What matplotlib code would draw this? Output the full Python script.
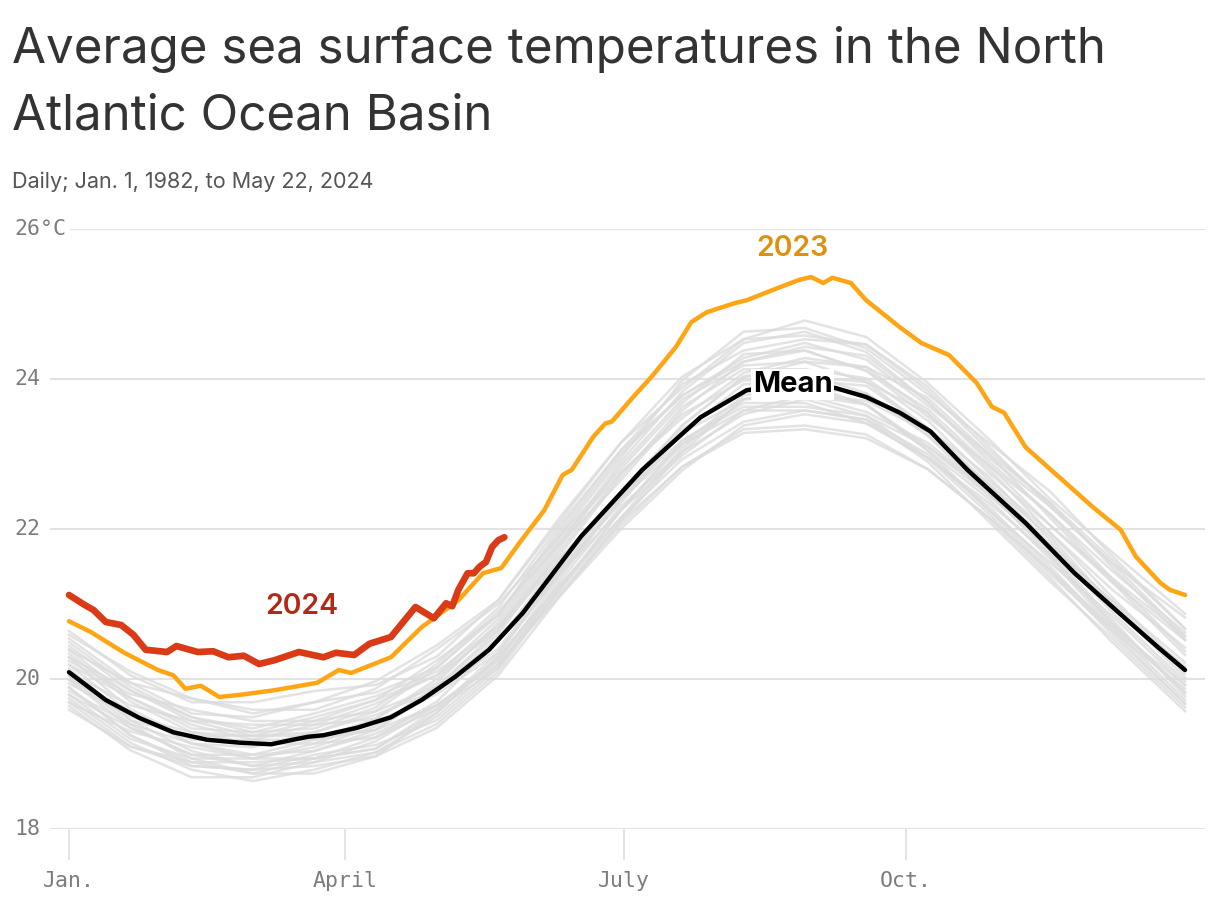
import matplotlib
matplotlib.use("Agg")
import matplotlib.pyplot as plt
import numpy as np

# ---- data (day of year, degrees C) ----
mean_days = [0, 12, 23, 34, 45, 56, 66, 73, 78, 83, 94, 105, 115, 126, 137, 148,
             167, 187, 206, 221, 235, 250, 260, 271, 281, 293, 312, 328, 345, 355, 364]
mean_vals = [20.09, 19.72, 19.48, 19.29, 19.19, 19.15, 19.13, 19.19, 19.23, 19.25, 19.35,
             19.49, 19.72, 20.03, 20.39, 20.88, 21.90, 22.79, 23.49, 23.85, 23.93, 23.88,
             23.76, 23.55, 23.30, 22.79, 22.08, 21.41, 20.79, 20.43, 20.12]

y2023_days = [0, 7, 18, 29, 34, 38, 43, 49, 56, 67, 81, 88, 92, 105, 115, 127, 135, 141,
              147, 155, 161, 164, 171, 175, 177, 184, 190, 195, 198, 203, 208, 217, 221,
              231, 238, 242, 246, 249, 255, 260, 271, 278, 287, 296, 301, 305, 312, 323,
              334, 343, 348, 356, 359, 364]
y2023_vals = [20.77, 20.63, 20.35, 20.12, 20.05, 19.87, 19.91, 19.76, 19.79, 19.85, 19.95,
              20.12, 20.08, 20.29, 20.69, 21.05, 21.41, 21.48, 21.82, 22.25, 22.72, 22.79,
              23.23, 23.41, 23.43, 23.76, 24.03, 24.28, 24.43, 24.76, 24.89, 25.01, 25.05,
              25.21, 25.32, 25.36, 25.28, 25.35, 25.28, 25.05, 24.69, 24.48, 24.32, 23.95,
              23.63, 23.55, 23.09, 22.69, 22.29, 21.99, 21.63, 21.28, 21.19, 21.12]

y2024_days = [0, 5, 8, 12, 17, 21, 25, 32, 35, 42, 47, 52, 57, 62, 67, 75, 83, 87, 93, 98,
              105, 113, 119, 123, 125, 127, 130, 132, 134, 136, 138, 140, 142]
y2024_vals = [21.12, 20.99, 20.92, 20.76, 20.72, 20.59, 20.39, 20.36, 20.44, 20.36, 20.37,
              20.29, 20.31, 20.20, 20.25, 20.36, 20.29, 20.35, 20.32, 20.47, 20.56, 20.96,
              20.81, 21.01, 20.97, 21.19, 21.41, 21.41, 21.50, 21.56, 21.76, 21.85, 21.89]

# earlier years 1982-2022 (a sample of the grey spaghetti), sampled every 20 days
grey_days = [0, 20, 40, 60, 80, 100, 120, 140, 160, 180, 200, 220, 240, 260, 280, 300, 320, 340, 364]
grey_years = [
    [19.74, 19.15, 18.79, 18.64, 18.79, 19.02, 19.50, 20.20, 21.15, 22.05, 22.83, 23.33, 23.38, 23.26, 22.80, 22.15, 21.45, 20.60, 19.67],
    [19.59, 19.10, 18.89, 18.74, 18.74, 18.97, 19.55, 20.30, 21.25, 22.15, 22.93, 23.43, 23.58, 23.46, 22.90, 22.10, 21.30, 20.55, 19.62],
    [19.89, 19.25, 18.84, 18.79, 18.99, 19.12, 19.45, 20.15, 21.30, 22.30, 23.03, 23.53, 23.73, 23.51, 22.95, 22.35, 21.65, 20.75, 19.82],
    [20.14, 19.45, 19.04, 18.84, 18.89, 19.17, 19.65, 20.25, 21.20, 22.25, 23.18, 23.68, 23.68, 23.41, 22.95, 22.30, 21.50, 20.65, 19.87],
    [19.69, 19.30, 19.09, 18.94, 18.94, 19.07, 19.60, 20.35, 21.40, 22.25, 22.98, 23.58, 23.78, 23.66, 23.10, 22.45, 21.75, 20.90, 19.97],
    [19.99, 19.35, 18.99, 18.99, 19.19, 19.32, 19.65, 20.20, 21.10, 22.10, 23.03, 23.73, 23.88, 23.66, 23.05, 22.25, 21.45, 20.70, 19.92],
    [19.79, 19.20, 18.94, 18.94, 19.14, 19.42, 19.80, 20.35, 21.40, 22.45, 23.18, 23.63, 23.63, 23.51, 23.10, 22.50, 21.70, 20.80, 19.77],
    [20.19, 19.55, 19.14, 19.09, 19.29, 19.52, 19.85, 20.40, 21.45, 22.50, 23.28, 23.73, 23.78, 23.71, 23.30, 22.55, 21.70, 20.95, 20.17],
    [19.94, 19.50, 19.29, 19.14, 19.14, 19.22, 19.70, 20.50, 21.60, 22.50, 23.38, 24.03, 24.08, 23.81, 23.25, 22.60, 21.90, 21.00, 20.02],
    [20.34, 19.70, 19.29, 19.24, 19.44, 19.57, 19.90, 20.60, 21.70, 22.75, 23.53, 23.98, 24.03, 23.96, 23.55, 22.80, 21.95, 21.20, 20.42],
    [20.09, 19.65, 19.44, 19.39, 19.39, 19.47, 19.95, 20.75, 21.85, 22.75, 23.48, 24.08, 24.28, 24.16, 23.55, 22.75, 22.05, 21.30, 20.32],
    [20.44, 19.85, 19.44, 19.24, 19.29, 19.57, 20.15, 20.90, 21.80, 22.65, 23.58, 24.23, 24.38, 24.11, 23.50, 22.85, 22.20, 21.35, 20.37],
    [20.24, 19.80, 19.59, 19.44, 19.44, 19.72, 20.25, 20.85, 21.95, 23.00, 23.78, 24.23, 24.43, 24.31, 23.70, 22.90, 22.20, 21.45, 20.62],
    [20.54, 19.95, 19.54, 19.49, 19.69, 19.82, 20.15, 20.85, 22.00, 23.05, 23.93, 24.38, 24.53, 24.46, 23.85, 23.05, 22.35, 21.60, 20.67],
    [20.39, 19.95, 19.74, 19.59, 19.59, 19.87, 20.40, 21.00, 21.90, 22.95, 23.98, 24.63, 24.68, 24.41, 23.80, 23.15, 22.50, 21.65, 20.67],
    [20.64, 20.05, 19.69, 19.69, 19.84, 19.92, 20.30, 21.05, 22.15, 23.15, 23.88, 24.53, 24.78, 24.56, 23.95, 23.20, 22.40, 21.70, 20.87],
    [20.29, 19.60, 19.19, 19.19, 19.39, 19.67, 20.05, 20.65, 21.75, 22.85, 23.73, 24.18, 24.23, 24.16, 23.75, 23.00, 22.15, 21.30, 20.52],
    [19.84, 19.40, 19.14, 18.99, 19.04, 19.32, 19.85, 20.55, 21.45, 22.35, 23.28, 23.93, 23.98, 23.91, 23.35, 22.60, 21.80, 21.05, 20.22],
    [20.04, 19.40, 18.94, 18.74, 18.94, 19.22, 19.60, 20.15, 21.20, 22.25, 23.13, 23.78, 23.93, 23.66, 23.05, 22.40, 21.60, 20.70, 19.72],
    [20.49, 19.90, 19.49, 19.34, 19.54, 19.77, 20.10, 20.70, 21.80, 22.90, 23.83, 24.48, 24.63, 24.36, 23.70, 22.95, 22.30, 21.55, 20.57],
    [19.64, 19.05, 18.69, 18.69, 18.89, 19.02, 19.40, 20.10, 21.20, 22.10, 22.83, 23.28, 23.33, 23.21, 22.80, 22.15, 21.35, 20.50, 19.57],
    [20.19, 19.75, 19.39, 19.19, 19.19, 19.47, 20.00, 20.70, 21.65, 22.70, 23.63, 24.13, 24.13, 24.01, 23.45, 22.65, 21.95, 21.10, 20.12],
    [20.09, 19.45, 19.24, 19.24, 19.24, 19.32, 19.90, 20.65, 21.60, 22.45, 23.38, 24.03, 24.23, 23.96, 23.35, 22.70, 21.85, 20.95, 20.12],
    [19.79, 19.35, 18.99, 18.84, 19.04, 19.27, 19.65, 20.25, 21.35, 22.40, 23.13, 23.58, 23.58, 23.46, 23.00, 22.25, 21.55, 20.85, 19.92],
    [20.29, 19.85, 19.49, 19.29, 19.34, 19.62, 20.20, 20.95, 22.05, 23.05, 23.78, 24.28, 24.48, 24.26, 23.65, 23.00, 22.35, 21.50, 20.52],
    [19.89, 19.25, 18.89, 18.89, 18.94, 19.07, 19.55, 20.30, 21.25, 22.15, 23.08, 23.73, 23.78, 23.56, 23.15, 22.50, 21.65, 20.75, 19.82],
    [20.39, 19.75, 19.34, 19.29, 19.49, 19.72, 20.05, 20.80, 21.90, 22.80, 23.68, 24.33, 24.38, 24.11, 23.60, 22.85, 22.05, 21.35, 20.57],
    [19.99, 19.55, 19.14, 18.94, 19.09, 19.37, 19.90, 20.50, 21.40, 22.40, 23.33, 23.83, 23.88, 23.81, 23.25, 22.45, 21.75, 21.05, 20.07],
    [20.59, 20.10, 19.74, 19.54, 19.69, 19.97, 20.45, 21.05, 22.10, 23.15, 24.03, 24.53, 24.58, 24.46, 23.90, 23.10, 22.30, 21.55, 20.82],
    [19.69, 19.10, 18.84, 18.79, 18.84, 18.97, 19.35, 20.05, 21.10, 22.00, 22.78, 23.38, 23.53, 23.41, 22.95, 22.20, 21.40, 20.65, 19.67],
]

month_ticks = [0, 90, 181, 273]
month_labels = ["Jan.", "April", "July", "Oct."]
y_ticks = [18, 20, 22, 24, 26]
y_labels = ["18", "20", "22", "24", "26°C"]

# ---- figure ----
W, H = 1220, 900
fig = plt.figure(figsize=(W / 100, H / 100), dpi=100)
ax = fig.add_axes([50 / W, (H - 829) / H, (1205 - 50) / W, 600 / H])

for vals in grey_years:
    ax.plot(grey_days, vals, color="#dcdcdc", lw=1.8, alpha=0.8, zorder=1,
            solid_joinstyle="round")
ax.plot(mean_days, mean_vals, color="black", lw=3.2, zorder=3, solid_capstyle="round")
ax.plot(y2023_days, y2023_vals, color="#FFA514", lw=3.2, zorder=4, solid_capstyle="round")
ax.plot(y2024_days, y2024_vals, color="#DA3A16", lw=4.8, zorder=5, solid_capstyle="round")

ax.set_xlim(-19 / 3.066, (1205 - 69) / 3.066)
ax.set_ylim(18, 26)

for s in ax.spines.values():
    s.set_visible(False)
for t in y_ticks:
    ax.axhline(t, color="#e2e2e2", lw=1.5, zorder=0)

ax.set_yticks([])
ax.set_xticks(month_ticks)
ax.set_xticklabels(month_labels, family="DejaVu Sans Mono", fontsize=15.5, color="#7c7c7c")
ax.tick_params(axis="x", length=22, width=1.3, color="#e2e2e2", pad=8)

for t, lab in zip(y_ticks, y_labels):
    ax.text(-0.0305, t, lab, transform=ax.get_yaxis_transform(), ha="left", va="center",
            family="DejaVu Sans Mono", fontsize=15.5, color="#7c7c7c",
            bbox=dict(facecolor="white", edgecolor="none", pad=2), zorder=6)

ax.text(236, 25.74, "2023", ha="center", va="center", fontsize=20.5, fontweight="semibold",
        color="#E0900A", family="Inter", zorder=6)
ax.text(76, 20.97, "2024", ha="center", va="center", fontsize=20.5, fontweight="semibold",
        color="#B22A17", family="Inter", zorder=6)
ax.text(236, 23.93, "Mean", ha="center", va="center", fontsize=21, fontweight="bold",
        color="black", family="Inter", zorder=6,
        bbox=dict(facecolor="white", edgecolor="none", pad=1.5))

fig.text(12 / W, 1 - 63 / H, "Average sea surface temperatures in the North",
         family="Inter", fontsize=35.5, color="#333333", va="baseline", ha="left")
fig.text(12 / W, 1 - 130 / H, "Atlantic Ocean Basin",
         family="Inter", fontsize=35.5, color="#333333", va="baseline", ha="left")
fig.text(12 / W, 1 - 188 / H, "Daily; Jan. 1, 1982, to May 22, 2024",
         family="Inter", fontsize=15.5, color="#555555", va="baseline", ha="left")

fig.savefig("out.png", dpi=100, facecolor="white")
